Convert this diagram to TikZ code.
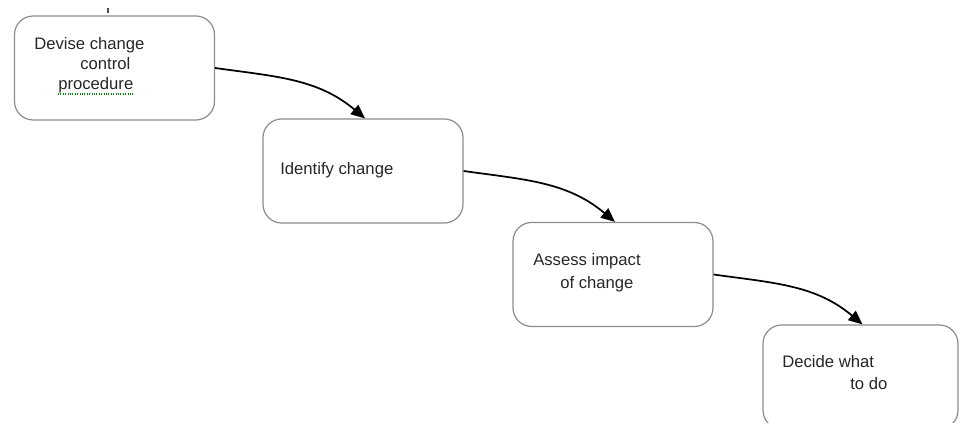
\documentclass[tikz,border=0pt]{standalone}
\usepackage{fontspec}
\setmainfont{Liberation Sans}
\usetikzlibrary{arrows.meta,calc}

\begin{document}
\begin{tikzpicture}[x=0.75pt, y=-0.75pt,
    stage/.style = {draw=black!45, line width=0.9pt, rounded corners=14pt,
        minimum width=150pt, minimum height=78pt, inner sep=0pt},
    words/.style = {anchor=base west, inner sep=0pt,
        font=\fontsize{12.5}{15}\selectfont, text=black!85},
    flow/.style = {-{Triangle[length=10.5pt,width=9pt]}, line width=1.3pt}]
    % Page frame
    \useasboundingbox (0,0) rectangle (959,423);
    \clip (0,0) rectangle (959,423);

    % Boxes
    \node[stage] (devise) at (114.5,68) {};
    \node[stage] (identify) at (363,171) {};
    \node[stage] (assess) at (613,274.5) {};
    \node[stage, minimum width=146.25pt] (decide) at (860.5,377) {};

    % Texts
    \node[words] (deviseA) at (34,50) {Devise change};
    \node[words] (deviseB) at (80,70) {control};
    \node[words] (deviseC) at (58,90) {procedure};
    \node[words] (identifyA) at (280,175) {Identify change};
    \node[words] (assessA) at (533,266) {Assess impact};
    \node[words] (assessB) at (560,289) {of change};
    \node[words] (decideA) at (782,368) {Decide what};
    \node[words] (decideB) at (850,390) {to do};

    % Spelling mark and cursor
    \draw[green!55!black, densely dotted, line width=0.8pt]
        ($(deviseC.base west)+(0,4)$) -- ($(deviseC.base east)+(0,4)$);
    \draw[black!70, line width=0.8pt] (108,8) -- (108,13);

    % Arrows
    \draw[flow] (devise.east) to[out=-8, in=140] ([xshift=1.5pt]identify.north);
    \draw[flow] (identify.east) to[out=-8, in=140] ([xshift=1.5pt]assess.north);
    \draw[flow] (assess.east) to[out=-8, in=140] ([xshift=1.5pt]decide.north);
\end{tikzpicture}
\end{document}
